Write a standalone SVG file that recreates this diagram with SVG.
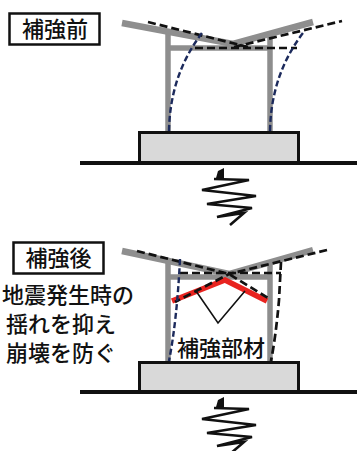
<svg xmlns="http://www.w3.org/2000/svg" width="357" height="451" viewBox="0 0 357 451">
  <style>
    .lbl { font-family: "Noto Sans CJK JP", "Noto Sans", sans-serif; font-size: 22px; font-weight: 500; fill: #111; }
    .box { fill: #fff; stroke: #111; stroke-width: 2.5; }
    .frame { stroke: #8e8e8e; fill: none; stroke-linecap: butt; }
    .dash { stroke: #111; stroke-width: 2.7; fill: none; stroke-dasharray: 8 4; }
    .navy { stroke: #1c2a5c; stroke-width: 2.4; fill: none; stroke-dasharray: 6 3; }
    .base { fill: #d9d9d9; stroke: #111; stroke-width: 3; }
    .ground { stroke: #111; stroke-width: 4; }
    .spring { stroke: #111; stroke-width: 2.6; fill: none; stroke-linejoin: miter; }
    .brace { stroke: #e8231f; stroke-width: 5.5; fill: none; }
  </style>
  <defs>
    <!-- seismic input symbol under the foundation -->
    <g id="quake">
      <polygon points="216,178 218,171 224,168 224,178" fill="#111"/>
      <polyline class="spring" points="214,179 249,180 202,190 256,196 207,204 252,208 217,217 244,213 230,225"/>
    </g>
  </defs>

  <!-- before reinforcement -->
  <g id="label-before">
    <rect class="box" x="9.5" y="13.5" width="90" height="31"/>
    <text class="lbl" x="55" y="37" text-anchor="middle">補強前</text>
  </g>

  <g id="frame-before">
    <line class="frame" x1="168" y1="30" x2="168" y2="131" stroke-width="5.5"/>
    <line class="frame" x1="270" y1="33" x2="270" y2="131" stroke-width="5.5"/>
    <line class="frame" x1="168" y1="48" x2="270" y2="48" stroke-width="5.5"/>
    <polyline class="frame" points="122,23 233,44 313,22" stroke-width="6.5"/>
  </g>

  <g id="foundation-before">
    <line class="ground" x1="80" y1="163" x2="357" y2="163"/>
    <rect class="base" x="139.5" y="132.5" width="159" height="30"/>
  </g>

  <g id="quake-before">
    <use href="#quake"/>
  </g>

  <g id="connectors-before">
    <line class="dash" x1="148" y1="22" x2="248" y2="47"/>
    <line class="dash" x1="234" y1="47" x2="342" y2="21"/>
    <line class="dash" x1="195" y1="48" x2="297" y2="48"/>
    <path class="navy" d="M169,131 Q170,75 202,33"/>
    <path class="navy" d="M270,131 Q271,75 303,33"/>
  </g>

  <!-- after reinforcement -->
  <g id="label-after">
    <rect class="box" x="13.5" y="242.5" width="90" height="31"/>
    <text class="lbl" x="58.5" y="266" text-anchor="middle">補強後</text>
  </g>

  <g id="note">
    <text class="lbl" x="2" y="303" font-size="23">地震発生時の</text>
    <text class="lbl" x="6" y="332" font-size="23">揺れを抑え</text>
    <text class="lbl" x="6" y="361" font-size="23">崩壊を防ぐ</text>
  </g>

  <g id="frame-after">
    <line class="frame" x1="168" y1="260" x2="168" y2="361" stroke-width="5.5"/>
    <line class="frame" x1="270" y1="262" x2="270" y2="361" stroke-width="5.5"/>
    <line class="frame" x1="168" y1="277" x2="270" y2="277" stroke-width="5.5"/>
    <polyline class="frame" points="122,251 229,274 313,250" stroke-width="6.5"/>
  </g>

  <g id="foundation-after">
    <line class="ground" x1="80" y1="392" x2="357" y2="392"/>
    <rect class="base" x="139.5" y="362.5" width="159" height="29"/>
  </g>

  <g id="quake-after">
    <use href="#quake" transform="translate(0,229)"/>
  </g>

  <g id="brace">
    <polyline class="brace" points="172,301 225,280 267,301"/>
  </g>

  <g id="connectors-after">
    <polyline class="dash" points="137,251 229,274 268,298"/>
    <polyline class="dash" points="327,250 229,274 175,302"/>
    <line class="dash" x1="180" y1="273" x2="281" y2="273"/>
    <path class="dash" d="M281,262 L279,300 Q276,335 271,361"/>
    <path class="navy" d="M180,259 Q177,320 169,361"/>
    <polyline points="196,291 218,323 245,291" fill="none" stroke="#111" stroke-width="1.6"/>
  </g>

  <g id="label-brace">
    <text class="lbl" x="221" y="356" text-anchor="middle">補強部材</text>
  </g>
</svg>
